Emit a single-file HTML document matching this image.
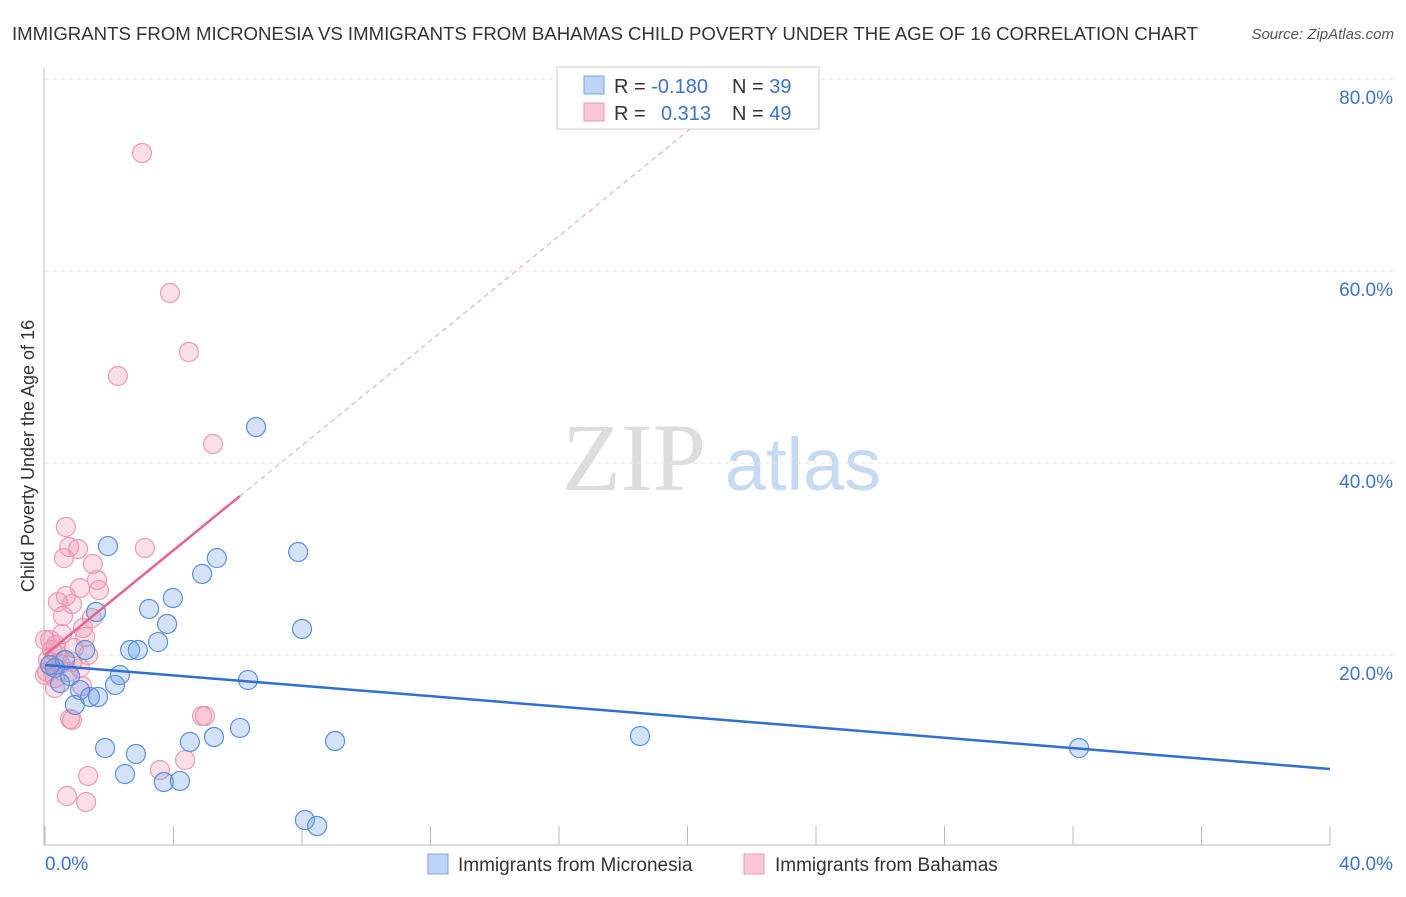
<!DOCTYPE html>
<html><head><meta charset="utf-8"><style>
body{margin:0;background:#fff;font-family:"Liberation Sans",sans-serif}
</style></head><body>
<svg id="c" width="1406" height="892" xmlns="http://www.w3.org/2000/svg" font-family="Liberation Sans, sans-serif">
<text x="12" y="40" font-size="18" fill="#333" textLength="1186" lengthAdjust="spacingAndGlyphs">IMMIGRANTS FROM MICRONESIA VS IMMIGRANTS FROM BAHAMAS CHILD POVERTY UNDER THE AGE OF 16 CORRELATION CHART</text>
<text x="1394" y="39" font-size="15" fill="#555" text-anchor="end" font-style="italic">Source: ZipAtlas.com</text>
<g>
<text x="634" y="490" font-size="96" fill="#ddd" text-anchor="middle" font-family="Liberation Serif, serif">ZIP</text>
<text x="803" y="490" font-size="74" fill="#c8daf2" text-anchor="middle">atlas</text>
</g>
<text transform="translate(34,456) rotate(-90)" font-size="18" fill="#333" text-anchor="middle">Child Poverty Under the Age of 16</text>
<g id="grid"></g><g id="axes"></g><g id="marks"></g>
<g>
<rect x="557" y="67" width="262" height="62" fill="#fff" stroke="#ccc"/>
<rect x="584" y="76" width="20" height="18" fill="#bcd4f5" stroke="#7aa6e6"/>
<rect x="584" y="103" width="20" height="18" fill="#f9c6d6" stroke="#ec9bb6"/>
<text x="614" y="93" font-size="20" fill="#333">R = <tspan fill="#3a72d0">-0.180</tspan></text>
<text x="732" y="93" font-size="20" fill="#333">N = <tspan fill="#3a72d0">39</tspan></text>
<text x="614" y="120" font-size="20" fill="#333">R = <tspan fill="#3a72d0" x="661">0.313</tspan></text>
<text x="732" y="120" font-size="20" fill="#333">N = <tspan fill="#3a72d0">49</tspan></text>
</g>
<g>
<rect x="428" y="854" width="20" height="20" fill="#bcd4f5" stroke="#7aa6e6"/>
<text x="458" y="871" font-size="19" fill="#333">Immigrants from Micronesia</text>
<rect x="744" y="854" width="20" height="20" fill="#f9c6d6" stroke="#ec9bb6"/>
<text x="775" y="871" font-size="19" fill="#333">Immigrants from Bahamas</text>
</g>
</svg>
<script>
const blueX=[6.57,1.96,7.88,5.35,4.89,3.98,3.24,1.59,3.80,8.00,3.52,2.65,2.89,1.25,0.31,2.33,6.32,0.78,2.18,1.09,1.40,1.65,0.93,6.07,5.26,4.51,9.03,1.87,2.83,18.52,32.19,2.49,3.70,4.20,8.09,8.47,0.16,0.47,0.62];
const blueY=[43.75,31.35,30.73,30.10,28.44,25.94,24.79,24.48,23.23,22.71,21.35,20.52,20.52,20.52,18.65,17.92,17.40,17.81,16.88,16.35,15.63,15.63,14.79,12.40,11.46,10.94,11.04,10.31,9.69,11.56,10.31,7.60,6.77,6.88,2.81,2.19,18.96,17.08,19.48];
const pinkX=[3.02,3.89,4.48,2.27,5.23,0.65,3.11,0.75,1.03,0.59,1.49,1.62,1.09,1.68,0.65,0.40,0.84,0.56,1.46,1.18,0.53,1.25,0.16,0.34,0,0.22,0.90,1.34,0.09,0.47,0.84,1.09,0.06,0.31,0.72,1.15,0.31,0.16,4.98,4.89,0.78,0.84,3.58,4.36,1.34,0.68,1.28,0,0.40];
const pinkY=[72.29,57.71,51.56,49.06,41.98,33.33,31.15,31.25,31.04,30.10,29.48,27.81,26.98,26.77,26.15,25.52,25.31,24.06,23.85,22.81,22.19,21.88,21.56,21.04,21.56,20.52,20.73,20.0,19.48,19.06,19.27,18.65,18.23,17.60,18.23,16.77,16.56,18.85,13.65,13.65,13.33,13.23,8.02,9.06,7.40,5.31,4.69,17.92,20.0];
const blueTrend=[18.96,8.13];
const pinkTrend=[20.0,36.56,6.07];
const yTicks=[20,40,60,80];
const yTickLabels=["20.0%","40.0%","60.0%","80.0%"];
const xTicks=[0,4,8,12,16,20,24,28,32,36,40];
const NS="http://www.w3.org/2000/svg";
const sx=v=>45+v*32.125, sy=v=>847-v*9.6;
function mk(p,t,a){const e=document.createElementNS(NS,t);for(const k in a)e.setAttribute(k,a[k]);p.appendChild(e);return e;}
const grid=document.getElementById('grid'),axes=document.getElementById('axes'),marks=document.getElementById('marks');
yTicks.forEach((v,i)=>{
 const l=mk(grid,'line',{x1:45,x2:1393,y1:sy(v),y2:sy(v),stroke:'#e6e6e6','stroke-dasharray':'4,4'});
 
 
 const t=mk(axes,'text',{x:1393,y:sy(v)+25,'font-size':19,fill:'#3a72d0','text-anchor':'end'});t.textContent=yTickLabels[i];
 
 
});
const ax=mk(axes,'path',{d:'M44,68 V845 H1330',stroke:'#bbb',fill:'none'});


xTicks.forEach(v=>{const l=mk(axes,'line',{x1:sx(v),x2:sx(v),y1:826,y2:845,stroke:'#bbb'});
 
 });
const x0=mk(axes,'text',{x:45,y:870,'font-size':19,fill:'#3a72d0'});x0.textContent='0.0%';


const x1=mk(axes,'text',{x:1393,y:870,'font-size':19,fill:'#3a72d0','text-anchor':'end'});x1.textContent='40.0%';


function dots(X,Y,fill,stroke,name){X.forEach((x,i)=>{const c=mk(marks,'circle',{cx:sx(x),cy:sy(Y[i]),r:9.5,fill:fill,stroke:stroke,'stroke-width':1.2});
 
 });}
dots(pinkX,pinkY,'rgba(240,140,170,0.28)','#eb9ab5','bahamas-point');
dots(blueX,blueY,'rgba(110,160,230,0.3)','#5a8fdb','micronesia-point');
const bl=mk(marks,'line',{x1:sx(0),y1:sy(blueTrend[0]),x2:sx(40),y2:sy(blueTrend[1]),stroke:'#2f6fd6','stroke-width':2.5});


const slope=(pinkTrend[1]-pinkTrend[0])/pinkTrend[2];
const xEnd=(81-pinkTrend[0])/slope;
const pd=mk(marks,'line',{x1:sx(pinkTrend[2]),y1:sy(pinkTrend[1]),x2:sx(xEnd),y2:sy(81),stroke:'#eaa0b8','stroke-width':1,'stroke-dasharray':'5,4'});


const ps=mk(marks,'line',{x1:sx(0),y1:sy(pinkTrend[0]),x2:sx(pinkTrend[2]),y2:sy(pinkTrend[1]),stroke:'#e8648e','stroke-width':2.5});


</script>
</body></html>
